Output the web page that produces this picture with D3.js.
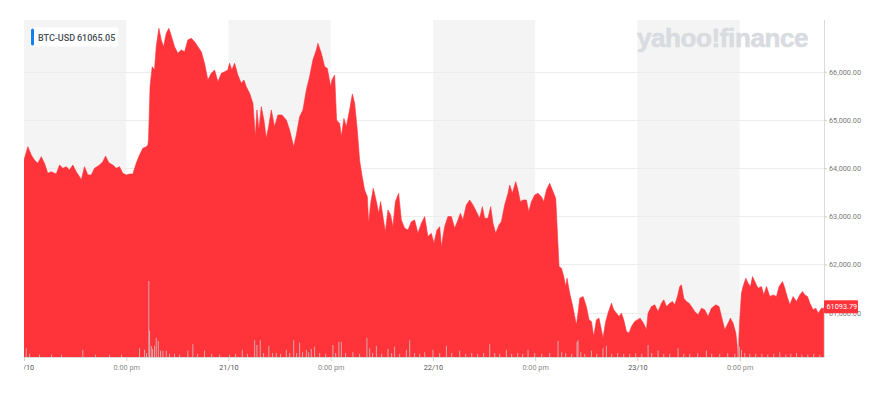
<!DOCTYPE html>
<html>
<head>
<meta charset="utf-8">
<script src="https://cdn.jsdelivr.net/npm/d3@7"></script>
<style>
  html, body { margin: 0; padding: 0; background: #ffffff; }
  svg { display: block; }
</style>
</head>
<body>
<div id="chart"></div>
<script>
// ---------------- DATA ----------------
const symbol = "BTC-USD";
const legendValue = "61065.05";
const lastPrice = 61093.79;
// hours since 20/10 00:00
const priceHours = [0,0.45,0.85,1.23,1.62,2.02,2.41,2.79,3.19,3.78,4.17,4.56,4.96,5.34,5.73,6.13,6.52,6.72,7.10,7.49,7.89,8.28,8.87,9.25,9.57,9.96,10.43,10.83,11.21,11.60,12.00,12.39,12.78,13.17,13.56,13.95,14.35,14.54,14.62,14.80,15.05,15.32,15.52,15.83,16.11,16.38,16.70,17.00,17.32,17.67,18.06,18.46,18.85,19.23,19.63,20.02,20.41,20.81,21.19,21.58,21.98,22.37,22.76,23.16,23.54,23.93,24.13,24.40,24.72,25.10,25.50,25.81,26.09,26.48,26.87,27.15,27.34,27.57,27.85,28.16,28.44,28.71,29.03,29.41,29.80,30.27,30.79,31.18,31.65,31.96,32.35,32.74,33.14,33.52,33.91,34.31,34.50,34.90,35.29,35.60,35.99,36.14,36.46,36.69,37.05,37.25,37.55,37.83,38.22,38.54,38.81,39.12,39.39,39.66,39.98,40.30,40.45,40.69,41.00,41.36,41.63,41.86,42.13,42.41,42.72,43.03,43.30,43.59,43.97,44.29,44.68,45.07,45.47,45.85,46.24,46.64,47.03,47.41,47.81,48.12,48.47,48.79,48.99,49.37,49.76,50.16,50.55,50.94,51.22,51.52,51.92,52.31,52.70,53.10,53.48,53.80,54.07,54.46,54.78,55.05,55.36,55.75,56.03,56.42,56.81,57.01,57.32,57.71,57.98,58.26,58.57,58.97,59.24,59.56,59.94,60.33,60.73,61.00,61.32,61.70,62.02,62.41,62.61,62.80,63.08,63.35,63.58,63.74,64.05,64.37,64.64,64.84,65.03,65.23,65.62,66.01,66.32,66.60,66.87,67.19,67.49,67.77,67.96,68.28,68.55,68.95,69.22,69.54,69.84,70.12,70.39,70.71,71.02,71.30,71.68,72.32,72.71,73.06,73.25,73.65,74.03,74.42,74.82,75.09,75.41,75.80,76.11,76.38,76.70,76.97,77.17,77.44,77.76,78.06,78.34,78.73,79.12,79.52,79.90,80.29,80.69,81.20,81.58,81.87,82.25,82.64,82.92,83.23,83.55,83.82,84.01,84.21,84.40,84.72,84.99,85.27,85.51,85.78,86.16,86.56,86.83,87.15,87.54,87.93,88.32,88.63,89.03,89.30,89.57,89.89,90.27,90.67,91.06,91.38,91.65,91.96,92.24,92.62,92.94,93.21,93.61,93.88];
const prices = [64168,64444,64272,64168,64099,64236,64099,63892,63925,63877,64064,63996,64030,63961,64064,63925,63821,63753,64030,63857,63857,63996,64064,64133,64250,64112,64064,63996,64030,63892,63857,63877,63877,64099,64272,64410,64444,64479,64600,65700,66104,66035,66519,66900,66658,66519,66796,66900,66726,66519,66382,66451,66416,66658,66692,66623,66519,66416,66174,65828,65966,66035,65793,65966,66000,66035,66174,66035,66174,65931,65759,65828,65689,65552,65344,64651,65206,64789,65274,64996,64618,64858,65206,64858,65102,65102,64996,64789,64444,64686,65066,65206,65620,65896,66243,66450,66589,66382,66104,66070,65689,65828,65931,64998,64927,64651,65031,64858,65206,65537,65344,64789,64168,63857,63545,63406,62854,63269,63580,63303,63062,63303,62993,62680,63131,63027,62784,63303,63476,62924,62750,62716,62889,62924,62647,62854,62993,62578,62647,62440,62716,62784,62370,62784,62993,62993,62750,62924,63062,62924,63234,63338,63234,63096,62958,63200,62958,62958,63200,62854,62647,62820,62889,63234,63476,63648,63476,63717,63545,63303,63338,63338,63096,63303,63441,63476,63406,63303,63545,63683,63545,63372,62647,61956,61922,61749,61542,61715,61404,61162,60920,60748,60990,61300,61335,61128,60852,60817,60507,60852,60886,60645,60472,60817,60990,61197,61059,60990,60920,60990,60852,60610,60576,60714,60817,60886,60782,60645,60990,61128,61162,61024,61197,61266,61128,61197,61231,61162,61335,61542,61577,61300,61231,61197,61128,61024,60955,61093,61059,60920,61093,61162,61128,60920,60645,60782,60886,60782,60576,60120,60852,61404,61542,61715,61611,61542,61749,61645,61508,61542,61369,61542,61335,61369,61335,61542,61645,61508,61335,61162,61335,61231,61369,61438,61369,61335,61197,61059,61093,60990,61093,61094];
const volumeHours = [0.26,0.65,1.82,3.23,4.40,6.90,8.40,10.04,11.45,13.56,14.15,14.38,14.65,14.74,14.94,15.09,15.32,15.52,15.76,16.03,16.30,16.70,17.09,17.67,18.26,19.23,19.82,20.37,21.19,22.02,22.96,24.13,24.83,25.62,26.24,27.07,27.34,27.73,28.12,28.74,29.18,29.61,30.12,30.79,31.18,31.65,32.00,32.35,32.70,33.14,33.41,33.72,34.11,34.70,35.40,36.26,36.58,36.96,37.25,37.75,38.61,39.39,40.25,40.57,40.92,41.36,41.98,42.72,43.15,43.50,44.09,44.88,45.27,45.85,46.44,47.03,48.00,48.79,49.58,50.20,51.14,51.84,52.55,53.25,53.95,54.66,55.25,55.83,56.62,57.24,57.95,58.53,59.16,59.94,60.77,61.70,62.68,63.11,63.58,64.29,64.91,65.03,65.35,65.81,66.60,67.22,67.96,68.36,68.98,69.69,70.39,71.10,71.80,72.51,73.25,73.68,74.42,75.09,75.80,76.77,77.44,78.14,79.08,80.10,80.72,81.66,82.60,83.43,83.82,83.96,84.21,84.60,85.19,85.89,86.60,87.30,88.01,88.71,89.42,90.00,90.67,91.29,92.00,92.70,93.41];
const volumes = [11,4,3,3,3,9,3,3,3,11,9,5,95,33,14,10,14,24,20,8,8,8,4,4,3,8,16,4,8,4,3,3,4,9,4,21,15,21,5,14,5,5,4,9,5,21,5,18,6,9,6,10,13,5,4,15,5,19,19,5,6,4,24,11,5,14,4,10,5,13,4,9,21,5,4,6,9,5,14,5,8,4,5,4,5,16,5,4,9,4,5,4,9,5,4,5,20,6,5,4,19,21,6,4,8,4,11,14,4,5,4,4,5,4,15,5,8,4,4,11,4,4,5,8,4,4,5,4,21,13,9,5,4,4,4,3,4,6,3,4,5,3,3,4,3];
const yTicks = [61000, 62000, 63000, 64000, 65000, 66000];
const xTickHours = [0, 12, 24, 36, 48, 60, 72, 84];
const dateLabels = ["20/10", "21/10", "22/10", "23/10"];
const noonLabel = "0:00 pm";

// ---------------- LAYOUT ----------------
const W = 888, H = 408;
const pL = 24, pR = 824, pT = 20, pB = 357;
const start = new Date(2021, 9, 20, 0, 0);
const t = h => new Date(start.getTime() + h * 3600e3);

const x = d3.scaleTime().domain([t(0), t(93.9)]).range([pL, pR]);
const y = d3.scaleLinear().domain([60080, 67073]).range([pB, pT]);
const v = d3.scaleLinear().domain([0, 100]).range([0, 80]);

const svg = d3.select("#chart").append("svg").attr("width", W).attr("height", H);
const defs = svg.append("defs");
defs.append("clipPath").attr("id", "plot").append("rect")
  .attr("x", pL).attr("y", pT).attr("width", pR - pL).attr("height", pB - pT);
defs.append("clipPath").attr("id", "xclip").append("rect")
  .attr("x", pL).attr("y", pB).attr("width", W - pL).attr("height", H - pB);

// gray morning bands (00:00 - 12:00)
svg.append("g").selectAll("rect").data([0, 24, 48, 72]).join("rect")
  .attr("x", d => x(t(d)))
  .attr("y", pT)
  .attr("width", d => x(t(d + 12)) - x(t(d)))
  .attr("height", pB - pT)
  .attr("fill", "#f4f4f4");

// gridlines
svg.append("g").selectAll("line").data(yTicks).join("line")
  .attr("x1", pL).attr("x2", pR)
  .attr("y1", d => Math.round(y(d)) + 0.5).attr("y2", d => Math.round(y(d)) + 0.5)
  .attr("stroke", "#ededed").attr("stroke-width", 1);

// watermark
svg.append("text")
  .attr("x", 637).attr("y", 47)
  .attr("font-family", "'Liberation Sans', Arial, sans-serif")
  .attr("font-weight", "bold").attr("font-size", 26)
  .attr("letter-spacing", -0.4)
  .attr("fill", "#d8dbe0")
  .attr("stroke", "#d8dbe0").attr("stroke-width", 0.6)
  .text("yahoo!finance");

// price area
const series = priceHours.map((h, i) => ({ t: t(h), p: prices[i] }));
const area = d3.area().x(d => x(d.t)).y0(pB).y1(d => y(d.p)).curve(d3.curveLinear);
svg.append("path").datum(series)
  .attr("clip-path", "url(#plot)")
  .attr("d", area)
  .attr("fill", "#ff333a")
  .attr("stroke", "#ff333a").attr("stroke-width", 0.6);

// volume bars
const vol = volumeHours.map((h, i) => ({ t: t(h), v: volumes[i] }));
svg.append("g").attr("clip-path", "url(#plot)").selectAll("rect").data(vol).join("rect")
  .attr("x", d => x(d.t) - 0.5)
  .attr("width", 1)
  .attr("y", d => pB - v(d.v))
  .attr("height", d => v(d.v))
  .attr("fill", "#cdc4c4").attr("opacity", 0.8);

// right axis
svg.append("line").attr("x1", pR + 0.5).attr("x2", pR + 0.5)
  .attr("y1", pT).attr("y2", pB).attr("stroke", "#dadada");
const yAxis = d3.axisRight(y).tickValues(yTicks).tickSize(3).tickPadding(2)
  .tickFormat(d3.format(",.2f"));
const yg = svg.append("g").attr("transform", `translate(${pR},0)`).call(yAxis);
yg.select(".domain").remove();
yg.selectAll(".tick line").attr("stroke", "#d0d0d0");
yg.selectAll(".tick text")
  .attr("font-family", "Roboto, sans-serif").attr("font-size", 7.3).attr("fill", "#7a7a7a");

// bottom axis
svg.append("line").attr("x1", pL).attr("x2", pR)
  .attr("y1", pB + 0.5).attr("y2", pB + 0.5).attr("stroke", "#dadada");
const fmtX = d => {
  const hrs = Math.round((d - start) / 3600e3);
  return hrs % 24 === 0 ? dateLabels[hrs / 24] : noonLabel;
};
const xAxis = d3.axisBottom(x).tickValues(xTickHours.map(t)).tickSize(4).tickPadding(4)
  .tickFormat(fmtX);
const xWrap = svg.append("g").attr("clip-path", "url(#xclip)");
const xg = xWrap.append("g").attr("transform", `translate(0,${pB})`).call(xAxis);
xg.select(".domain").remove();
xg.selectAll(".tick line").attr("stroke", "#d0d0d0");
xg.selectAll(".tick text")
  .attr("font-family", "Roboto, sans-serif").attr("font-size", 7.3)
  .attr("fill", d => Math.round((d - start) / 3600e3) % 24 === 0 ? "#555" : "#8a8a8a");

// last price label (drawn over the 61,000.00 tick label, as in the original)
const yl = y(lastPrice);
svg.append("rect").attr("x", pR).attr("y", yl - 8).attr("width", 34).attr("height", 13)
  .attr("rx", 1).attr("fill", "#ff333a");
svg.append("text").attr("x", pR + 2.5).attr("y", yl - 1.5)
  .attr("dominant-baseline", "central")
  .attr("font-family", "Roboto, sans-serif").attr("font-size", 7.3).attr("fill", "#fff")
  .text(d3.format(".2f")(lastPrice));

// legend
const lg = svg.append("g");
lg.append("rect").attr("x", 30).attr("y", 27.5).attr("width", 88).attr("height", 19)
  .attr("rx", 2).attr("fill", "#ffffff");
lg.append("rect").attr("x", 31).attr("y", 28.5).attr("width", 3).attr("height", 17)
  .attr("rx", 1.5).attr("fill", "#0f82f0");
lg.append("text").attr("x", 38).attr("y", 41)
  .attr("font-family", "Roboto, sans-serif").attr("font-size", 9).attr("font-weight", 500)
  .attr("fill", "#464e56").text(symbol);
lg.append("text").attr("x", 77).attr("y", 41)
  .attr("font-family", "Roboto, sans-serif").attr("font-size", 9).attr("font-weight", 500)
  .attr("fill", "#464e56").text(legendValue);
</script>
</body>
</html>
